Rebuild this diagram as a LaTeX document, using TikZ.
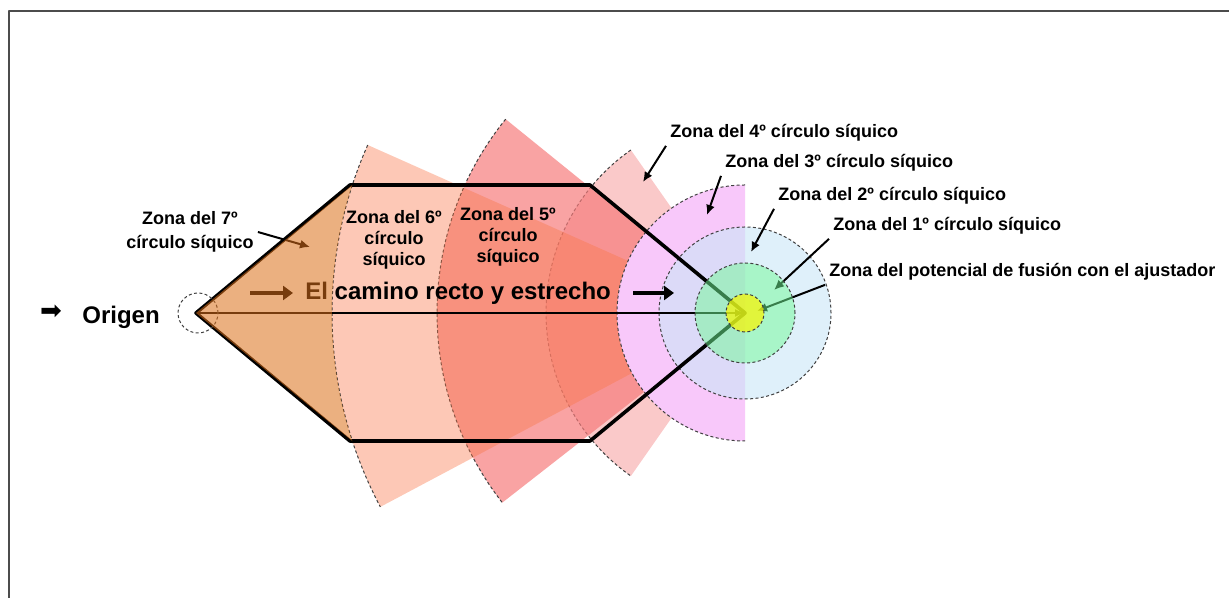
\documentclass[tikz,border=0pt]{standalone}
\usepackage{fontspec}
\setmainfont{Liberation Sans}
\newfontfamily\symfont{DejaVu Sans}
\usetikzlibrary{arrows.meta}
\definecolor{peachc}{RGB}{250,118,72}
\definecolor{redc}{RGB}{246,124,124}
\definecolor{pinkc}{RGB}{238,75,75}
\definecolor{brownc}{RGB}{219,111,24}
\definecolor{magc}{RGB}{248,200,250}
\definecolor{bluec}{RGB}{202,230,247}
\definecolor{greenc}{RGB}{113,250,150}
\definecolor{yelc}{RGB}{250,245,0}
\tikzset{
 zonearc/.style={draw=black!75, line width=.5pt, dash pattern=on 1.5pt off 1.2pt},
 hexline/.style={line width=1.8pt},
 lbl/.style={font=\fontsize{9}{10.5}\selectfont\bfseries, inner sep=2pt},
 lblarrow/.style={-{Latex[length=5pt,width=4.5pt]}, line width=1pt},
 bigarrow/.style={-{Triangle[length=5pt,width=7pt]}, line width=2.4pt},
}
\begin{document}
\begin{tikzpicture}[x=.5pt, y=.5pt, line join=round, >=stealth]
\useasboundingbox (0,0) rectangle (1229,598);
\draw[black!70, line width=.6pt] (1229,587) -- (9,587) -- (9,0);
\coordinate (C) at (745,285);
\coordinate (tip) at (196,285);
\foreach \r/\a/\b/\c/\o in {199/125/235/pinkc/.3, 308/141/218/redc/.7, 413/156/208/peachc/.4}{
 \fill[\c, fill opacity=\o] (C) -- ++(\a:\r) arc[start angle=\a, end angle=\b, radius=\r] -- cycle;
 \draw[zonearc] (C) ++(\a:\r) arc[start angle=\a, end angle=\b, radius=\r];
}
\fill[magc] (C) ++(90:128) arc[start angle=90, end angle=270, radius=128] -- cycle;
\draw[zonearc] (C) ++(90:128) arc[start angle=90, end angle=270, radius=128];
\fill[bluec, fill opacity=.6] (C) circle[radius=86];
\draw[zonearc] (C) circle[radius=86];
\coordinate (h1) at (350,413); \coordinate (h2) at (590,413);
\coordinate (h3) at (590,157); \coordinate (h4) at (350,157);
\draw[hexline] (tip) -- (h1) -- (h2) -- (C) -- (h3) -- (h4) -- cycle;
\draw[line width=1pt, -{Latex[length=5pt,width=4pt]}] (tip) -- (C);
\node[circle, zonearc, minimum size=20pt, inner sep=0pt] (orig) at (198,285) {};
\node[font=\symfont\fontsize{13}{13}\selectfont, inner sep=0pt] (sym) at (51,286) {➡};
\node[font=\fontsize{12}{14}\selectfont\bfseries, anchor=west, inner sep=2pt] (origen) at (78,281) {Origen};
\node[lbl, align=center, font=\fontsize{9}{12}\selectfont\bfseries] (z7) at (190,366) {Zona del 7º\\círculo síquico};
\node[lbl, align=center] (z6) at (394,358) {Zona del 6º\\círculo\\síquico};
\node[lbl, align=center] (z5) at (508,361) {Zona del 5º\\círculo\\síquico};
\node[font=\fontsize{12}{14}\selectfont\bfseries, anchor=west, inner sep=2pt] (camino) at (301,305) {El camino recto y estrecho};
\coordinate (a1) at (250,305); \coordinate (a2) at (674,305);
\draw[bigarrow, shorten >=4pt] (a1) -- (camino.west);
\draw[bigarrow, shorten <=9pt] (camino.east) -- (a2);
\node[lbl, anchor=west] (z4) at (666,465) {Zona del 4º círculo síquico};
\node[lbl, anchor=west] (z3) at (721,435) {Zona del 3º círculo síquico};
\node[lbl, anchor=west] (z2) at (774,402) {Zona del 2º círculo síquico};
\node[lbl, anchor=west] (z1) at (829,372) {Zona del 1º círculo síquico};
\node[lbl, anchor=west] (zp) at (825,326) {Zona del potencial de fusión con el ajustador};
\coordinate (t7) at (310,351); \coordinate (t4) at (643,416);
\coordinate (t3) at (707,383); \coordinate (t2) at (751,346);
\coordinate (t1) at (774,308); \coordinate (tp) at (757,287);
\draw[lblarrow] (z7.east) -- (t7);
\draw[lblarrow] (z4.south west) -- (t4);
\draw[lblarrow] (z3.south west) -- (t3);
\draw[lblarrow] (z2.south west) -- (t2);
\draw[lblarrow] (z1.south west) -- (t1);
\draw[lblarrow] (zp.south west) -- (tp);
\fill[brownc, fill opacity=.55] (tip) -- (352.3,413) arc[start angle=161.94, end angle=198.06, radius=413] -- cycle;
\fill[greenc, fill opacity=.5] (C) circle[radius=50];
\draw[zonearc] (C) circle[radius=50];
\fill[yelc, fill opacity=.7] (C) circle[radius=19];
\draw[zonearc] (C) circle[radius=19];
\end{tikzpicture}
\end{document}
